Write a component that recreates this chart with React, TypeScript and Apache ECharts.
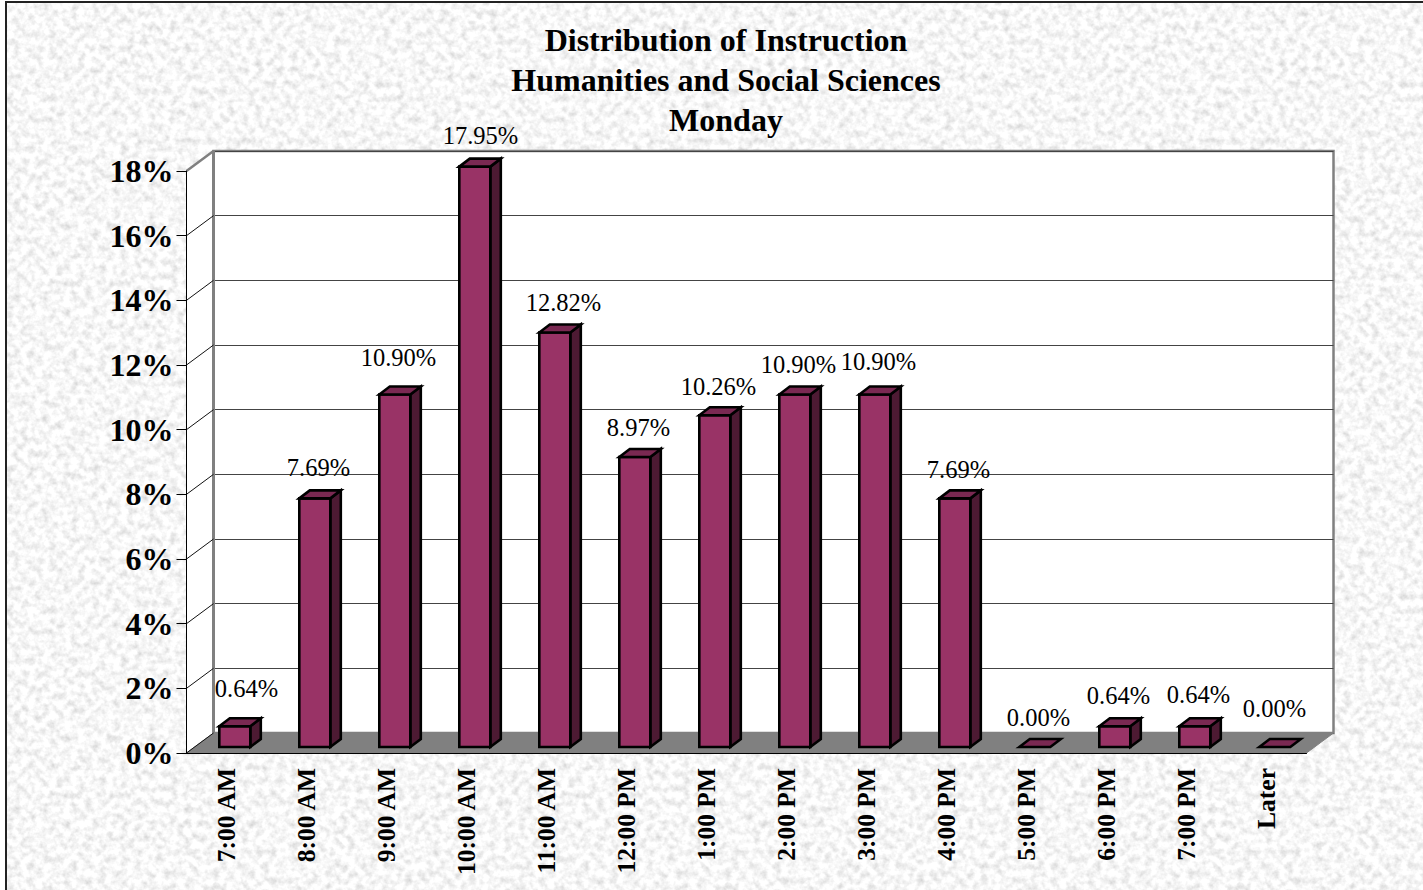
import React, { useEffect, useRef } from "react";
import * as echarts from "echarts";

const titleLines = ["Distribution of Instruction", "Humanities and Social Sciences", "Monday"];
const categories = ["7:00 AM", "8:00 AM", "9:00 AM", "10:00 AM", "11:00 AM", "12:00 PM", "1:00 PM", "2:00 PM", "3:00 PM", "4:00 PM", "5:00 PM", "6:00 PM", "7:00 PM", "Later"];
const shares = [0.64, 7.69, 10.9, 17.95, 12.82, 8.97, 10.26, 10.9, 10.9, 7.69, 0, 0.64, 0.64, 0];
const yTicks = [0, 2, 4, 6, 8, 10, 12, 14, 16, 18];

// Hand-placed data label nudges of the original, relative to category centre and bar top.
const labelShiftX = [20, 12, 12, 14, 17, 12, 12, 12, 12, 12, 12, 12, 12, 8];
const labelShiftY = [-38, -31, -37, -31, -30, -29, -29, -30, -33, -29, -30, -31, -32, -39];

const SERIF = '"Liberation Serif", "Times New Roman", serif';
const FRONT = { left: 186.5, top: 171, width: 1120, height: 582 };
const WALL_DX = 27;
const WALL_DY = -20;
const BAR_DX = 8.3;
const BAR_DY = -6;
const BAR_W = 31;
const DEPTH_X = 10.5;
const DEPTH_Y = -8;

const texture =
  "data:image/svg+xml," +
  encodeURIComponent(
    `<svg xmlns="http://www.w3.org/2000/svg" width="512" height="512"><filter id="n" x="0" y="0" width="100%" height="100%"><feTurbulence type="fractalNoise" baseFrequency="0.14" numOctaves="3" seed="7" stitchTiles="stitch"/><feColorMatrix type="matrix" values="0.62 0 0 0 0.62  0.62 0 0 0 0.62  0.62 0 0 0 0.62  0 0 0 0 1"/></filter><rect width="512" height="512" filter="url(#n)"/></svg>`
  );

function renderWallTick(params: any, api: any) {
  const cs = params.coordSys;
  const y = api.coord([0, api.value(0)])[1];
  const isTop = api.value(0) === yTicks[yTicks.length - 1];
  return {
    type: "line",
    shape: { x1: cs.x, y1: y, x2: cs.x + WALL_DX, y2: y + WALL_DY },
    style: { stroke: isTop ? "#808080" : "#111", lineWidth: isTop ? 2.5 : 1 },
  };
}

function renderRoom(params: any) {
  const cs = params.coordSys;
  const l = cs.x;
  const r = cs.x + cs.width;
  const t = cs.y;
  const b = cs.y + cs.height;
  return {
    type: "group",
    children: [
      {
        type: "polygon",
        shape: { points: [[l, t], [l + WALL_DX, t + WALL_DY], [l + WALL_DX, b + WALL_DY], [l, b]] },
        style: { fill: "#fff" },
      },
      {
        type: "polygon",
        shape: { points: [[l, b], [l + WALL_DX, b + WALL_DY], [r + WALL_DX, b + WALL_DY], [r, b]] },
        style: { fill: "#808080", stroke: "#808080", lineWidth: 1 },
      },
      {
        type: "line",
        shape: { x1: l + WALL_DX, y1: t + WALL_DY, x2: l + WALL_DX, y2: b + WALL_DY },
        style: { stroke: "#808080", lineWidth: 3 },
      },
    ],
  };
}

function renderBar(params: any, api: any) {
  const i = api.value(0);
  const v = api.value(1);
  const top = api.coord([i, v]);
  const base = api.coord([i, 0]);
  const x0 = top[0] + BAR_DX - BAR_W / 2;
  const x1 = x0 + BAR_W;
  const y0 = top[1] + BAR_DY;
  const y1 = base[1] + BAR_DY;
  const edge = { stroke: "#000", lineWidth: 2.6, lineJoin: "miter" };
  const children: any[] = [];
  if (v > 0) {
    children.push(
      { type: "polygon", shape: { points: [[x1, y0], [x1 + DEPTH_X, y0 + DEPTH_Y], [x1 + DEPTH_X, y1 + DEPTH_Y], [x1, y1]] }, style: { fill: "#4d1a33", ...edge } },
      { type: "polygon", shape: { points: [[x0, y0], [x1, y0], [x1, y1], [x0, y1]] }, style: { fill: "#993366", ...edge } }
    );
  }
  children.push({
    type: "polygon",
    shape: { points: [[x0, y0], [x0 + DEPTH_X, y0 + DEPTH_Y], [x1 + DEPTH_X, y0 + DEPTH_Y], [x1, y0]] },
    style: { fill: "#7a2952", ...edge },
  });
  children.push({
    type: "text",
    style: {
      text: v.toFixed(2) + "%",
      x: top[0] + labelShiftX[i],
      y: y0 + labelShiftY[i],
      align: "center",
      verticalAlign: "middle",
      font: `24.5px ${SERIF}`,
      fill: "#000",
    },
  });
  return { type: "group", children };
}

export default function App() {
  const ref = useRef<HTMLDivElement>(null);
  useEffect(() => {
    const chart = echarts.init(ref.current!, undefined, { renderer: "svg" });
    chart.setOption({
      animation: false,
      backgroundColor: "transparent",
      title: {
        text: titleLines.join("\n"),
        left: 721,
        top: 15,
        textAlign: "center",
        textStyle: { fontFamily: SERIF, fontWeight: "bold", fontSize: 32, lineHeight: 40, color: "#000" },
      },
      grid: [
        { ...FRONT, containLabel: false },
        {
          left: FRONT.left + WALL_DX,
          top: FRONT.top + WALL_DY,
          width: FRONT.width,
          height: FRONT.height,
          show: true,
          backgroundColor: "#fff",
          borderColor: "#808080",
          borderWidth: 2.5,
        },
      ],
      xAxis: [
        {
          gridIndex: 0,
          type: "category",
          data: categories,
          z: 3,
          boundaryGap: true,
          axisLine: { lineStyle: { color: "#000", width: 1 } },
          axisTick: { length: 10, alignWithLabel: false, lineStyle: { color: "#000" } },
          axisLabel: {
            interval: 0,
            rotate: 90,
            margin: 15,
            padding: [0, 0, 4, 0],
            color: "#000",
            fontFamily: SERIF,
            fontWeight: "bold",
            fontSize: 25.5,
          },
        },
        { gridIndex: 1, type: "category", data: categories, show: false },
      ],
      yAxis: [
        {
          gridIndex: 0,
          type: "value",
          min: 0,
          max: 18,
          interval: 2,
          z: 3,
          axisLine: { show: true, lineStyle: { color: "#000", width: 1 } },
          axisTick: { show: true, length: 10, lineStyle: { color: "#000" } },
          splitLine: { show: false },
          axisLabel: {
            margin: 13,
            padding: [0, 0, 2, 0],
            formatter: "{value}%",
            color: "#000",
            fontFamily: SERIF,
            fontWeight: "bold",
            fontSize: 32,
          },
        },
        {
          gridIndex: 1,
          type: "value",
          min: 0,
          max: 18,
          interval: 2,
          axisLine: { show: false },
          axisTick: { show: false },
          axisLabel: { show: false },
          splitLine: { show: true, lineStyle: { color: "#444", width: 1, type: "solid" } },
        },
      ],
      series: [
        {
          type: "custom",
          name: "room",
          xAxisIndex: 0,
          yAxisIndex: 0,
          z: 1,
          silent: true,
          clip: false,
          data: [[0, 0]],
          renderItem: renderRoom,
        },
        {
          type: "custom",
          name: "wall ticks",
          xAxisIndex: 0,
          yAxisIndex: 0,
          z: 2,
          silent: true,
          clip: false,
          encode: { y: 0 },
          data: yTicks.map((t) => [t]),
          renderItem: renderWallTick,
        },
        {
          type: "custom",
          name: "Monday",
          xAxisIndex: 0,
          yAxisIndex: 0,
          z: 6,
          clip: false,
          encode: { x: 0, y: 1 },
          data: shares.map((v, i) => [i, v]),
          renderItem: renderBar,
        },
      ],
    });
    return () => chart.dispose();
  }, []);
  return (
    <div style={{ position: "absolute", left: 0, top: 0, width: 1423, height: 890, overflow: "hidden", background: "#fff" }}>
      <div
        style={{
          position: "absolute",
          left: 5,
          top: 1,
          width: 1430,
          height: 900,
          boxSizing: "border-box",
          borderLeft: "2px solid #222",
          borderTop: "2px solid #222",
          backgroundImage: `url("${texture}")`,
        }}
      />
      <div ref={ref} style={{ position: "absolute", left: 0, top: 0, width: 1423, height: 890 }} />
    </div>
  );
}
